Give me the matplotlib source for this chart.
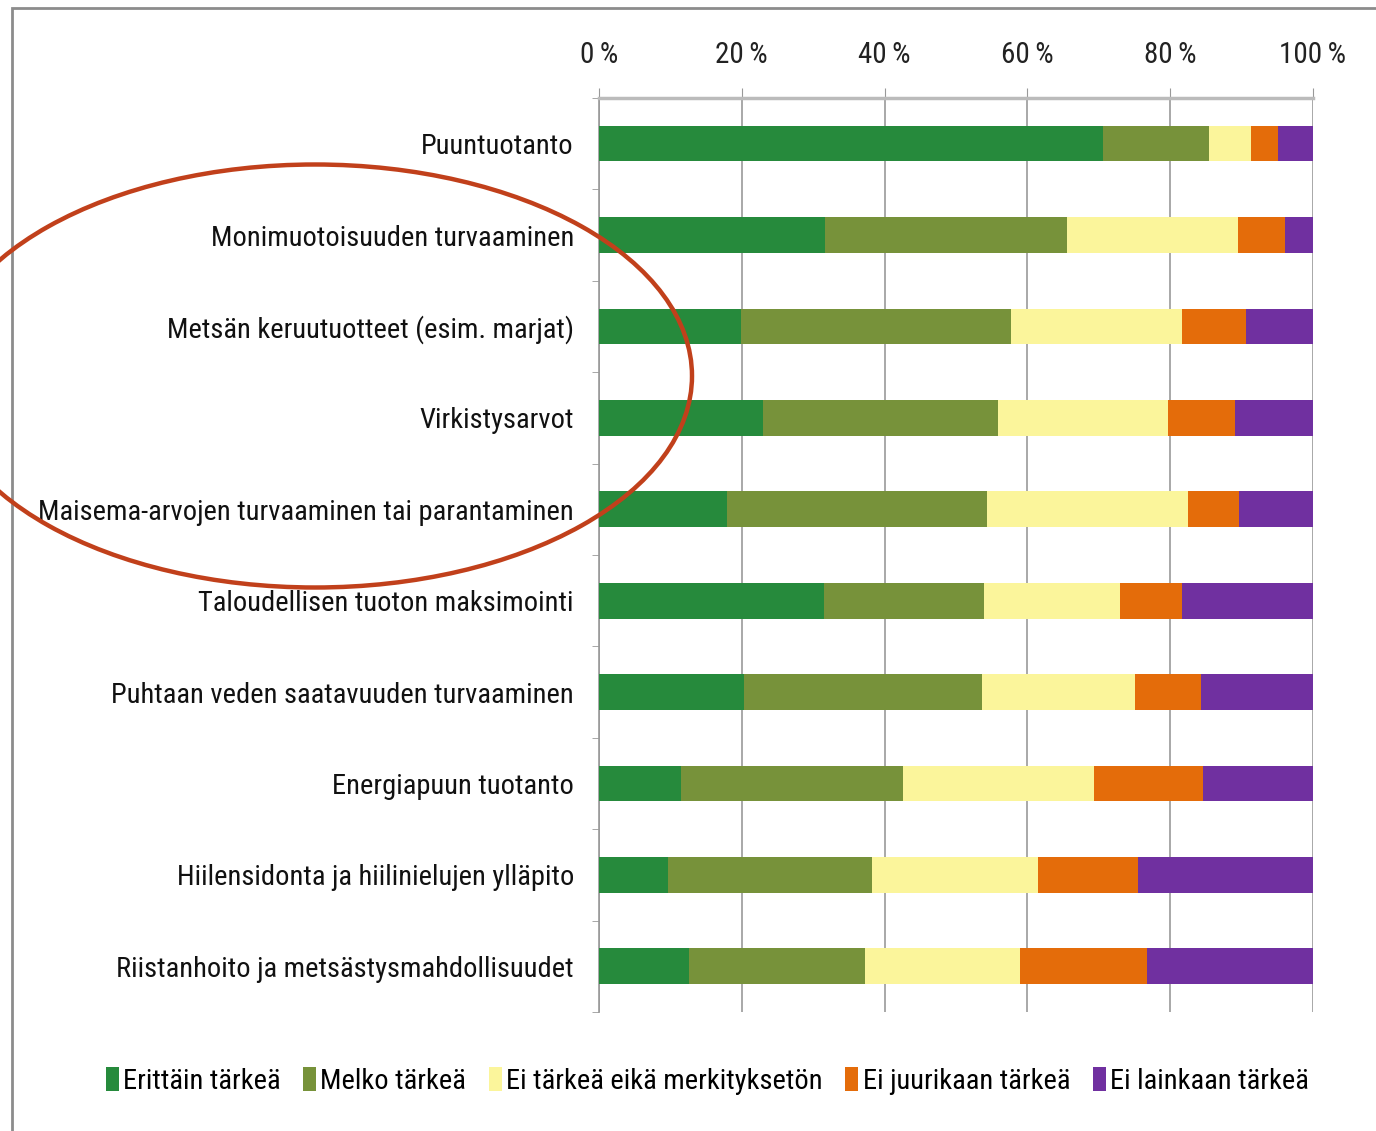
import matplotlib
matplotlib.use("Agg")
import matplotlib.pyplot as plt
from matplotlib.patches import Ellipse, Rectangle
import numpy as np

plt.rcParams['font.family'] = ['Roboto Condensed', 'DejaVu Sans']

categories = ['Puuntuotanto',
              'Monimuotoisuuden turvaaminen',
              'Metsän keruutuotteet (esim. marjat)',
              'Virkistysarvot',
              'Maisema-arvojen turvaaminen tai parantaminen',
              'Taloudellisen tuoton maksimointi',
              'Puhtaan veden saatavuuden turvaaminen',
              'Energiapuun tuotanto',
              'Hiilensidonta ja hiilinielujen ylläpito',
              'Riistanhoito ja metsästysmahdollisuudet']

erittain = [70.6, 31.7, 19.9, 23.0, 17.9, 31.5, 20.3, 11.5, 9.7, 12.6]
melko = [14.8, 33.8, 37.8, 32.9, 36.4, 22.4, 33.3, 31.1, 28.5, 24.7]
ei_eika = [5.9, 24.0, 24.0, 23.8, 28.2, 19.1, 21.5, 26.7, 23.3, 21.7]
ei_juuri = [3.8, 6.6, 8.9, 9.4, 7.1, 8.7, 9.2, 15.3, 14.0, 17.8]
ei_lainkaan = [4.9, 3.9, 9.4, 10.9, 10.4, 18.3, 15.7, 15.4, 24.5, 23.2]

series_names = ['Erittäin tärkeä', 'Melko tärkeä', 'Ei tärkeä eikä merkityksetön',
                'Ei juurikaan tärkeä', 'Ei lainkaan tärkeä']
colors = ['#268A3C', '#77923A', '#FBF59B', '#E46C0A', '#7030A0']
tick_labels = ['0\u2009%', '20\u2009%', '40\u2009%', '60\u2009%', '80\u2009%', '100\u2009%']

fig = plt.figure(figsize=(13.76, 11.31), dpi=100)
ax = fig.add_axes([0.4353, 0.1052, 0.5189, 0.8082])

y = np.arange(len(categories))
left = np.zeros(len(categories))
for name, vals, c in zip(series_names, [erittain, melko, ei_eika, ei_juuri, ei_lainkaan], colors):
    ax.barh(y, vals, left=left, height=0.39, color=c, label=name, zorder=3)
    left += np.array(vals)

ax.set_xlim(0, 100)
ax.set_ylim(len(categories) - 0.5, -0.5)
ax.xaxis.tick_top()
ax.set_xticks([0, 20, 40, 60, 80, 100])
ax.set_xticklabels(tick_labels, fontsize=21, color='#222222')
ax.tick_params(axis='x', length=7, color='#999999', pad=14)
ax.grid(axis='x', color='#999999', lw=1.2, zorder=0)

ax.set_yticks(y)
ax.set_yticklabels(categories, fontsize=20.5, color='#111111')
ax.tick_params(axis='y', length=0, pad=18)
ax.set_yticks(np.arange(-0.5, len(categories), 1), minor=True)
ax.tick_params(axis='y', which='minor', length=5, color='#999999')

for s in ['right', 'bottom']:
    ax.spines[s].set_visible(False)
ax.spines['top'].set_color('#bbbbbb')
ax.spines['top'].set_linewidth(2.5)
ax.spines['left'].set_color('#999999')
ax.spines['left'].set_linewidth(1.2)

fig.legend(loc='center', bbox_to_anchor=(0.514, 0.044), ncol=5, frameon=False,
           fontsize=20.5, handlelength=0.45, handleheight=0.9, handletextpad=0.15,
           columnspacing=0.8)

# outer frame
fig.add_artist(Rectangle((12 / 1376, -0.05), 1.2, 1 - 8 / 1131 + 0.05,
                         transform=fig.transFigure, fill=False,
                         edgecolor='#8c8c8c', lw=2, clip_on=False))

# red ellipse annotation
fig.add_artist(Ellipse((315 / 1376, 1 - 376 / 1131), 754 / 1376, 423 / 1131,
                       transform=fig.transFigure, fill=False,
                       edgecolor='#C1401B', lw=3.2))

fig.savefig('out.png', dpi=100)
